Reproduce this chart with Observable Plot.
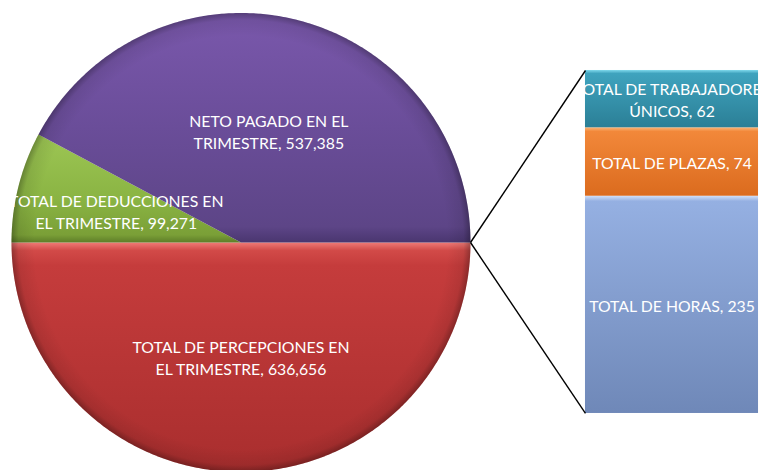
<!DOCTYPE html>
<html>
<head>
<meta charset="utf-8">
<script src="https://cdn.jsdelivr.net/npm/d3@7"></script>
<script src="https://cdn.jsdelivr.net/npm/@observablehq/plot@0.6"></script>
<style>
  html, body { margin: 0; padding: 0; background: #ffffff; }
  #chart { width: 759px; height: 470px; overflow: hidden; }
</style>
</head>
<body>
<div id="chart"></div>
<script>
// ---- Data ----
const pieNames = ["TOTAL DE PERCEPCIONES EN\nEL TRIMESTRE", "TOTAL DE DEDUCCIONES EN\nEL TRIMESTRE", "NETO PAGADO EN EL\nTRIMESTRE"];
const pieValues = [636656, 99271, 537385];
const pieColors = ["url(#g-red)", "url(#g-green)", "url(#g-purple)"];

const barNames = ["TOTAL DE HORAS", "TOTAL DE PLAZAS", "TOTAL DE TRABAJADORES\nÚNICOS"];
const barValues = [235, 74, 62];
const barColors = ["url(#g-blue)", "url(#g-orange)", "url(#g-teal)"];

// ---- Layout (in pie-radius units) ----
const W = 759, H = 470;
const R = 229.5, CX = 240.5, CY = 242;
const xDomain = [-CX / R, (W - CX) / R];
const yDomain = [(CY - H) / R, CY / R];
const barX1 = 1.501, barX2 = 2.255, barY0 = -0.745, barY1 = 0.7495;
const labelRadius = [0.5, 0.56, 0.5];

const fmt = d3.format(",");

// Pie geometry
const arcs = d3.pie().sort(null).startAngle(Math.PI / 2).endAngle(Math.PI / 2 + 2 * Math.PI)(pieValues);
const sliceMarks = arcs.map((a, i) => {
  const pts = [{x: 0, y: 0}];
  const n = Math.max(8, Math.ceil((a.endAngle - a.startAngle) / 0.01));
  for (let k = 0; k <= n; k++) {
    const t = a.startAngle + (a.endAngle - a.startAngle) * k / n;
    pts.push({x: Math.sin(t), y: Math.cos(t)});
  }
  pts.push({x: 0, y: 0});
  return Plot.line(pts, {x: "x", y: "y", fill: pieColors[i], stroke: "none", curve: "linear"});
});
const rimPts = d3.range(0, 361).map(k => ({x: Math.sin(k * Math.PI / 180), y: Math.cos(k * Math.PI / 180)}));

const pieLabels = arcs.map((a, i) => {
  const m = (a.startAngle + a.endAngle) / 2;
  return {x: labelRadius[i] * Math.sin(m), y: labelRadius[i] * Math.cos(m), text: pieNames[i] + ", " + fmt(pieValues[i])};
});

// Bar geometry
const barTotal = d3.sum(barValues);
const by = d3.scaleLinear([0, barTotal], [barY0, barY1]);
let cum = 0;
const barSegs = barValues.map((v, i) => {
  const s = {y1: by(cum), y2: by(cum + v), name: barNames[i], value: v, fill: barColors[i]};
  cum += v;
  return s;
});
const barLabels = barSegs.map(s => ({x: (barX1 + barX2) / 2, y: (s.y1 + s.y2) / 2, text: s.name + ", " + fmt(s.value)}));
const connectors = [
  {x1: 1, y1: 0, x2: barX1, y2: barY1},
  {x1: 1, y1: 0, x2: barX1, y2: barY0}
];

const font = "Lato, 'Open Sans', sans-serif";

const svg = Plot.plot({
  width: W, height: H,
  margin: 0,
  x: {domain: xDomain, range: [0, W], axis: null},
  y: {domain: yDomain, range: [H, 0], axis: null},
  style: {background: "white", overflow: "hidden"},
  marks: [
    ...sliceMarks,
    Plot.line(rimPts, {x: "x", y: "y", fill: "url(#g-rim)", stroke: "none"}),
    ...barSegs.map(s => Plot.rect([s], {x1: barX1, x2: barX2, y1: "y1", y2: "y2", fill: s.fill})),
    Plot.text(pieLabels, {x: "x", y: "y", text: "text", fill: "white", fontSize: 15.8, lineHeight: 1.4, fontFamily: font}),
    Plot.text(barLabels, {x: "x", y: "y", text: "text", fill: "white", fontSize: 15.8, lineHeight: 1.4, fontFamily: font}),
    Plot.link(connectors, {x1: "x1", y1: "y1", x2: "x2", y2: "y2", stroke: "black", strokeWidth: 1.4})
  ]
});

// gradients
const defs = d3.select(svg).insert("defs", ":first-child");
function lin(id, stops) {
  const g = defs.append("linearGradient").attr("id", id).attr("x1", 0).attr("y1", 0).attr("x2", 0).attr("y2", 1);
  stops.forEach(([o, c, a]) => g.append("stop").attr("offset", o).attr("stop-color", c).attr("stop-opacity", a ?? 1));
}
lin("g-purple", [[0, "#7A58AC"], [0.5, "#6A4D99"], [0.93, "#5D4587"], [1, "#4A3670"]]);
lin("g-green", [[0, "#9DC654"], [0.6, "#8AB443"], [0.93, "#7A9F37"], [1, "#5E7D28"]]);
lin("g-red", [[0, "#F07A76"], [0.035, "#D24A48"], [0.1, "#C53C3C"], [1, "#A92E2E"]]);
lin("g-teal", [[0, "#7FD9EC"], [0.06, "#3FA3BE"], [1, "#2B7F96"]]);
lin("g-orange", [[0, "#FBB679"], [0.06, "#F2883A"], [1, "#DB6B1E"]]);
lin("g-blue", [[0, "#D2E0F7"], [0.025, "#95B0E2"], [1, "#6F88B8"]]);
const rg = defs.append("radialGradient").attr("id", "g-rim").attr("cx", 0.5).attr("cy", 0.5).attr("r", 0.5);
[[0, "#000", 0], [0.9, "#000", 0], [0.97, "#000", 0.08], [1, "#000", 0.3]].forEach(([o, c, a]) =>
  rg.append("stop").attr("offset", o).attr("stop-color", c).attr("stop-opacity", a));

document.getElementById("chart").appendChild(svg);
</script>
</body>
</html>
